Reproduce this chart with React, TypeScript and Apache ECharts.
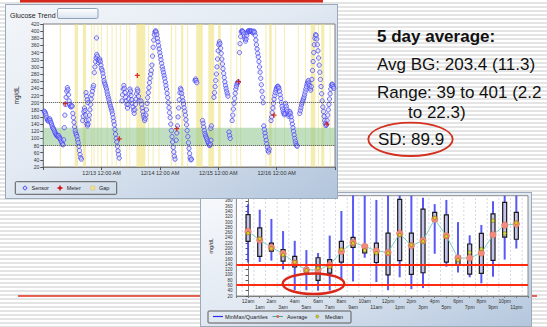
import React, { useEffect, useRef } from 'react';
import * as echarts from 'echarts';

const FONT = '"Liberation Sans", Arial, Helvetica, sans-serif';

// ---------- Top chart: Glucose Trend ----------
const dayTickLabels = ['', '12/13 12:00 AM', '12/14 12:00 AM', '12/15 12:00 AM', '12/16 12:00 AM', ''];
const sensorStep = 0.25; // hours between plotted sensor readings
const sensorSegments: [number, number[]][] = [
  [0.4, [176, 174, 170, 165, 158, 152, 150, 148, 152, 155, 150, 145, 140, 135, 130, 128, 124, 120, 116, 112, 110, 108, 106, 104, 108, 103, 100, 96, 92, 88, 84, 82, 96, 130, 165, 195, 215, 232, 242, 236, 222, 205, 195, 190, 188, 192, 190]],
  [12.15, [170, 158, 145, 132, 122, 115, 110, 105, 96, 88, 78, 66, 55, 46, 42]],
  [16.2, [150, 162, 175, 185, 178, 165, 150, 140, 135, 140, 152, 165, 180, 195, 210, 222, 232, 242, 248]],
  [17.6, [228, 218, 208, 200]],
  [21.0, [284, 300, 315, 325, 335, 330, 320, 312, 318, 322, 315, 305, 295, 290, 282, 272, 262, 255, 250, 244, 238, 230, 222, 215, 208, 200, 195, 188, 182, 176, 168, 158, 148, 138, 125, 112, 100, 90, 78, 65, 55, 45]],
  [21.9, [381]],
  [32.4, [205, 222, 238, 248, 240, 228, 215, 205, 195, 185, 195, 210, 225, 238, 232, 220, 208, 198, 188, 178, 170, 180, 195, 210, 225, 238, 232, 218, 205]],
  [40.2, [205, 195, 185, 175, 165, 158, 150, 155, 165, 180, 198, 214, 228, 242, 256, 268, 280, 290, 305, 330, 355, 375, 390, 398, 401, 398, 390, 380, 370, 360, 350, 340, 330, 320, 310, 300, 292, 284, 276, 268, 258, 248, 238, 226, 214, 200, 186, 172, 158, 140, 122, 105, 90, 75, 62, 50, 42]],
  [54.7, [95, 115, 135, 160, 185, 208, 228, 240, 236, 226, 215, 205, 196, 186, 176, 165, 152, 138, 122, 105, 88, 72, 58, 46, 40, 42]],
  [62.4, [262, 266, 262, 256]],
  [65.5, [150, 142, 132, 122, 114, 108, 104, 100, 95, 90, 86, 82, 80, 84, 95]],
  [68.9, [128, 135]],
  [70.2, [215, 228, 245, 262, 280, 300, 322, 345, 362, 370, 365, 352, 338, 322, 308, 295, 282, 270, 258, 248, 240, 232, 225, 218]],
  [76.4, [118, 108, 100]],
  [77.7, [150, 165, 182, 198, 212, 226, 238, 246, 252, 256, 258]],
  [80.7, [340, 365, 385, 398, 401, 400, 398, 392, 385, 378, 372, 378, 388, 396, 400, 401, 400, 399, 400, 401, 400, 398, 395, 398, 400, 396, 388, 375, 362, 350, 338, 328, 315, 300, 285, 268, 250, 232, 215, 200]],
  [90.7, [135, 125, 115, 105, 95, 85, 75, 66, 62, 70]],
  [93.7, [150, 160, 172, 185, 198, 210, 220, 228, 235, 240, 244, 246, 244, 240, 232, 222, 212, 200, 190, 182, 175, 170, 166, 170]],
  [99.7, [198, 190, 182, 175, 168, 162, 168, 175, 170, 160, 150, 140, 130, 120, 110, 100, 92, 85, 80, 78]],
  [105.5, [170, 178, 186, 194, 200, 205, 210, 215, 222, 230, 238, 245, 252, 258, 262, 255, 248, 240, 235]],
  [110.25, [245, 265, 290, 315, 340, 362, 380, 390, 388, 378, 362, 345, 325, 305, 285, 265, 245, 225, 205, 188, 175, 162, 150, 142, 136, 138, 150]],
  [117.0, [165, 180, 195, 210, 225, 238, 248, 252, 250, 245, 240]],
];
const meterHours = [9.05, 31.3, 38.7, 54.9, 80.3, 94.9, 116.7];
const meterValues = [197, 99, 276, 127, 259, 165, 140];
const gapStarts = [6.8, 12.9, 16.3, 19.7, 20.7, 22.3, 23.7, 26.1, 28.1, 29.8, 31.5, 34.1, 35.4, 38.3, 43.1, 45.0, 47.4, 52.5, 54.3, 56.7, 59.2, 62.9, 67.9, 71.9, 77.0, 79.4, 81.0, 91.4, 92.9, 95.4, 99.0, 104.7, 107.7, 110.0, 113.0, 114.3, 117.8];
const gapEnds = [7.3, 14.3, 17.6, 20.1, 21.1, 22.7, 24.1, 26.5, 28.5, 30.2, 31.9, 34.5, 35.8, 42.0, 43.5, 45.4, 47.8, 53.0, 54.7, 57.6, 59.6, 65.6, 70.3, 73.0, 77.4, 79.8, 81.4, 91.8, 94.0, 95.8, 99.4, 105.1, 108.1, 111.9, 113.4, 115.6, 118.2];
const targetBand = [80, 130];
const trendRefLines = [200, 80];

// ---------- Bottom chart: hourly distribution ----------
const hourLabels = ['12am', '1am', '2am', '3am', '4am', '5am', '6am', '7am', '8am', '9am', '10am', '11am', '12pm', '1pm', '2pm', '3pm', '4pm', '5pm', '6pm', '7pm', '8pm', '9pm', '10pm', '11pm'];
const hourMin = [147, 149, 154, 121, 42, 42, 40, 41, 80, 75, 165, 73, 42, 91, 46, 50, 180, 131, 109, 91, 68, 93, 158, 200];
const hourQ1 = [227, 170, 190, 152, 130, 110, 79, 107, 148, 204, 183, 147, 100, 154, 102, 108, 304, 148, 137, 103, 106, 155, 243, 235];
const hourQ3 = [328, 278, 220, 196, 170, 126, 165, 158, 227, 242, 214, 220, 258, 386, 258, 349, 337, 327, 171, 217, 257, 331, 375, 337];
const hourMax = [368, 347, 312, 266, 229, 194, 183, 249, 342, 401, 400, 384, 400, 400, 400, 392, 368, 384, 300, 250, 289, 379, 400, 400];
const hourAvg = [265, 232, 204, 181, 145, 119, 119, 137, 189, 223, 208, 191, 185, 257, 211, 230, 311, 248, 164, 164, 183, 252, 288, 293];
const hourMedian = [258, 237, 200, 176, 148, 117, 125, 131, 196, 220, 193, 182, 183, 251, 214, 227, 316, 246, 156, 185, 198, 305, 257, 297];
const limitLines = [140, 63];

// ---------- Slide text ----------
const summaryTitle = '5 day average:';
const summaryAvg = 'Avg BG: 203.4 (11.3)';
const summaryRange = ['Range: 39 to 401 (2.2', 'to 22.3)'];
const summarySD = 'SD: 89.9';

const PLUS = 'path://M3,0H5V3H8V5H5V8H3V5H0V3H3Z';

function txt(text: string, x: number, y: number, size: number, extra: any = {}) {
  return {
    type: 'text', x, y, z: 100, silent: true,
    style: { text, fill: '#222', fontSize: size, fontFamily: FONT, verticalAlign: 'middle', ...extra },
  };
}

function slideOption() {
  const big = 17;
  return {
    animation: false,
    graphic: [
      { type: 'rect', z: 10, shape: { x: 20, y: 0, width: 303, height: 2.5 }, style: { fill: '#d5281c' } },
      { type: 'rect', z: 10, shape: { x: 18, y: 295.3, width: 519, height: 1.5 }, style: { fill: '#e0301f' } },
      txt(summaryTitle, 377, 36.8, big, { fontWeight: 'bold', fill: '#111' }),
      txt(summaryAvg, 377, 64.8, big, { fill: '#111' }),
      txt(summaryRange[0], 377, 92.6, big, { fill: '#111' }),
      txt(summaryRange[1], 408, 112.6, big, { fill: '#111' }),
      txt(summarySD, 378, 139, big, { fill: '#111' }),
      { type: 'ellipse', z: 101, shape: { cx: 410.5, cy: 139.3, rx: 42.2, ry: 16.7 }, style: { fill: 'none', stroke: '#d3301f', lineWidth: 1.8 } },
    ],
  };
}

function topOption() {
  const sensorData: number[][] = [];
  sensorSegments.forEach(([start, vals]) => vals.forEach((v, i) => sensorData.push([start + i * sensorStep, v])));
  const axisLine = { show: true, lineStyle: { color: '#7d7d7d', width: 1 } };
  return {
    animation: false,
    textStyle: { fontFamily: FONT },
    grid: { left: 31, top: 20, width: 300, height: 143, show: true, backgroundColor: '#ffffff', borderColor: '#7d7d7d', borderWidth: 1 },
    xAxis: {
      type: 'value', min: 0, max: 120, interval: 24,
      axisLine, axisTick: { show: true, length: 3, lineStyle: { color: '#555' } },
      axisLabel: { fontSize: 5.5, color: '#333', margin: 3, formatter: (v: number) => dayTickLabels[Math.round(v / 24)] ?? '' },
      splitLine: { show: false },
    },
    yAxis: {
      type: 'value', min: 20, max: 420, interval: 20,
      name: 'mg/dL', nameLocation: 'middle', nameGap: 17, nameRotate: 90,
      nameTextStyle: { fontSize: 6.5, color: '#333', fontFamily: FONT },
      axisLine, axisTick: { show: true, length: 3, lineStyle: { color: '#555' } },
      axisLabel: { fontSize: 5, color: '#333', margin: 4 },
      splitLine: { show: false },
    },
    series: [
      {
        type: 'scatter', data: [], silent: true,
        markArea: { silent: true, itemStyle: { color: 'rgba(236,220,110,0.55)' }, data: gapStarts.map((s, i) => [{ xAxis: s }, { xAxis: gapEnds[i] }]) },
      },
      {
        type: 'scatter', data: [], silent: true,
        markArea: { silent: true, itemStyle: { color: 'rgba(140,196,140,0.55)' }, data: [[{ yAxis: targetBand[0] }, { yAxis: targetBand[1] }]] },
        markLine: { silent: true, symbol: ['none', 'none'], label: { show: false }, lineStyle: { color: '#444', type: 'dotted', width: 1 }, data: trendRefLines.map((v) => ({ yAxis: v })) },
      },
      {
        name: 'Sensor', type: 'scatter', data: sensorData, symbol: 'circle', symbolSize: 4.3, silent: true, z: 3,
        itemStyle: { color: 'rgba(205,205,255,0.55)', borderColor: '#3d3df2', borderWidth: 0.9 },
      },
      {
        name: 'Meter', type: 'scatter', data: meterHours.map((h, i) => [h, meterValues[i]]), symbol: PLUS, symbolSize: 5, silent: true, z: 4,
        itemStyle: { color: '#d40000' },
      },
    ],
    graphic: [
      txt('Glucose Trend', 5, 11, 7),
      {
        type: 'rect', z: 100, shape: { x: 52.5, y: 4.5, width: 40.5, height: 10, r: 1.5 },
        style: { fill: new echarts.graphic.LinearGradient(0, 0, 0, 1, [{ offset: 0, color: '#ffffff' }, { offset: 1, color: '#d9e3ee' }]), stroke: '#8ea2ba', lineWidth: 1 },
      },
      { type: 'rect', z: 100, shape: { x: 10.3, y: 177.7, width: 101.4, height: 12.6, r: 1 }, style: { fill: 'none', stroke: '#5a5a5a', lineWidth: 1 } },
      { type: 'circle', z: 100, shape: { cx: 20, cy: 184, r: 1.8 }, style: { fill: 'rgba(205,205,255,0.6)', stroke: '#3d3df2', lineWidth: 0.9 } },
      txt('Sensor', 26.5, 184, 5.5),
      {
        type: 'polygon', z: 100,
        shape: { points: [[54.3, 181.5], [55.7, 181.5], [55.7, 183.3], [57.5, 183.3], [57.5, 184.7], [55.7, 184.7], [55.7, 186.5], [54.3, 186.5], [54.3, 184.7], [52.5, 184.7], [52.5, 183.3], [54.3, 183.3]] },
        style: { fill: '#d40000' },
      },
      txt('Meter', 61.7, 184, 5.5),
      { type: 'rect', z: 100, shape: { x: 85.7, y: 182, width: 4, height: 4 }, style: { fill: '#efe39a', stroke: '#d6c870', lineWidth: 0.6 } },
      txt('Gap', 94, 184, 5.5),
    ],
  };
}

function bottomOption() {
  const bounds = hourLabels.map((_, i) => i - 0.5).concat([hourLabels.length - 0.5]);
  const axisLine = { show: true, lineStyle: { color: '#7d7d7d', width: 1 } };
  return {
    animation: false,
    textStyle: { fontFamily: FONT },
    grid: { left: 31, top: 3.7, width: 297, height: 100.3, show: true, backgroundColor: '#ffffff', borderColor: '#8a8a8a', borderWidth: 1 },
    xAxis: {
      type: 'value', min: -1, max: 24, interval: 1,
      axisLine, axisTick: { show: true, length: 2, lineStyle: { color: '#777' } },
      axisLabel: {
        fontSize: 5, lineHeight: 6, color: '#333', margin: 2,
        formatter: (v: number) => {
          const i = Math.round(v);
          const l = hourLabels[i];
          if (!l) return '';
          return i % 2 === 0 ? l : '\n' + l;
        },
      },
      splitLine: { show: false },
    },
    yAxis: {
      type: 'value', min: 20, max: 400, interval: 20,
      name: 'mg/dL', nameLocation: 'middle', nameGap: 21, nameRotate: 90,
      nameTextStyle: { fontSize: 5.5, color: '#333', fontFamily: FONT },
      axisLine, axisTick: { show: true, length: 2.5, lineStyle: { color: '#555' } },
      axisLabel: { fontSize: 4.5, color: '#333', margin: 4, formatter: (v: number) => (v >= 400 ? '' : String(v)) },
      splitLine: { show: false },
    },
    series: [
      {
        type: 'custom', data: bounds.map((b) => [b, 20]), encode: { x: 0, y: 1 }, silent: true, z: 1,
        renderItem: (_p: any, api: any) => {
          const x = api.value(0);
          const a = api.coord([x, 20]);
          const b = api.coord([x, 400]);
          return { type: 'line', shape: { x1: a[0], y1: a[1], x2: b[0], y2: b[1] }, style: { stroke: '#c6cfdc', lineWidth: 0.8, lineDash: [2, 2] } };
        },
      },
      {
        type: 'custom', silent: true, z: 2,
        data: hourLabels.map((_, i) => [i, hourMin[i], hourQ1[i], hourQ3[i], hourMax[i]]),
        encode: { x: 0, y: [1, 2, 3, 4] },
        renderItem: (_p: any, api: any) => {
          const x = api.value(0);
          const pMin = api.coord([x, api.value(1)]);
          const pQ1 = api.coord([x, api.value(2)]);
          const pQ3 = api.coord([x, api.value(3)]);
          const pMax = api.coord([x, api.value(4)]);
          return {
            type: 'group',
            children: [
              { type: 'line', shape: { x1: pMin[0], y1: pMin[1], x2: pMax[0], y2: pMax[1] }, style: { stroke: '#4646f5', lineWidth: 2, opacity: 0.9 } },
              { type: 'rect', shape: { x: pQ3[0] - 2, y: pQ3[1], width: 4, height: pQ1[1] - pQ3[1] }, style: { fill: '#c4c4ee', stroke: '#1a1a1a', lineWidth: 1.2 } },
            ],
          };
        },
      },
      {
        type: 'line', data: hourLabels.map((_, i) => [i, hourAvg[i]]), silent: true, z: 3,
        symbol: 'circle', symbolSize: 6.5,
        itemStyle: { color: '#f38b7c', borderColor: '#e27363', borderWidth: 0.5 },
        lineStyle: { color: '#7fcfc5', width: 1 },
        markLine: {
          silent: true, symbol: ['none', 'none'], label: { show: false },
          lineStyle: { color: '#ff2a10', width: 2, type: 'solid' },
          data: limitLines.map((v) => ({ yAxis: v })),
        },
      },
      {
        type: 'scatter', data: hourLabels.map((_, i) => [i, hourMedian[i]]), silent: true, z: 4,
        symbol: 'circle', symbolSize: 3.5,
        itemStyle: { color: '#e2de1c', borderColor: '#5a5a00', borderWidth: 0.6 },
      },
    ],
    graphic: [
      { type: 'rect', z: 100, shape: { x: 8, y: 119, width: 143, height: 12, r: 1 }, style: { fill: 'none', stroke: '#5a5a5a', lineWidth: 1 } },
      { type: 'line', z: 100, shape: { x1: 13, y1: 124.5, x2: 23, y2: 124.5 }, style: { stroke: '#2d2df0', lineWidth: 1.2 } },
      txt('MinMax/Quartiles', 25, 124.5, 5.5),
      { type: 'line', z: 100, shape: { x1: 72.5, y1: 124.5, x2: 83, y2: 124.5 }, style: { stroke: '#3aa89c', lineWidth: 1 } },
      { type: 'circle', z: 101, shape: { cx: 77.8, cy: 124.5, r: 1.4 }, style: { fill: '#e0604f' } },
      txt('Average', 87, 124.5, 5.5),
      { type: 'circle', z: 100, shape: { cx: 117.3, cy: 124.5, r: 1.4 }, style: { fill: '#d8d41a', stroke: '#6a6a00', lineWidth: 0.5 } },
      txt('Median', 125, 124.5, 5.5),
      { type: 'ellipse', z: 110, shape: { cx: 113.5, cy: 91.7, rx: 30.8, ry: 10.3 }, style: { fill: 'none', stroke: '#d9281a', lineWidth: 2.5 } },
    ],
  };
}

export default function App() {
  const slideRef = useRef<HTMLDivElement>(null);
  const topRef = useRef<HTMLDivElement>(null);
  const botRef = useRef<HTMLDivElement>(null);

  useEffect(() => {
    const slide = echarts.init(slideRef.current!, null, { renderer: 'svg' });
    slide.setOption(slideOption() as any);
    const bot = echarts.init(botRef.current!, null, { renderer: 'svg' });
    bot.setOption(bottomOption() as any);
    const top = echarts.init(topRef.current!, null, { renderer: 'svg' });
    top.setOption(topOption() as any);
    return () => {
      slide.dispose();
      bot.dispose();
      top.dispose();
    };
  }, []);

  return (
    <div
      style={{
        position: 'fixed', left: 0, top: 0, width: 547, height: 327, overflow: 'hidden',
        background: 'repeating-linear-gradient(to bottom, #ffffff 0px, #ffffff 2px, #e4e4e4 2px, #e4e4e4 4px)',
      }}
    >
      <div ref={slideRef} style={{ position: 'absolute', left: 0, top: 0, width: 547, height: 327 }} />
      <div
        ref={botRef}
        style={{
          position: 'absolute', left: 200, top: 192, width: 332, height: 135,
          background: 'linear-gradient(160deg, #f7f9fc 0%, #e2e9f2 50%, #b3c6dd 100%)',
          boxShadow: 'inset 0 0 0 1px #9aaabb',
        }}
      />
      <div
        ref={topRef}
        style={{
          position: 'absolute', left: 5, top: 4, width: 333, height: 195,
          background: 'linear-gradient(150deg, #f3f6fa 0%, #e3eaf3 45%, #b2c5dc 100%)',
          boxShadow: 'inset 0 0 0 1px #9aaabb',
        }}
      />
    </div>
  );
}
